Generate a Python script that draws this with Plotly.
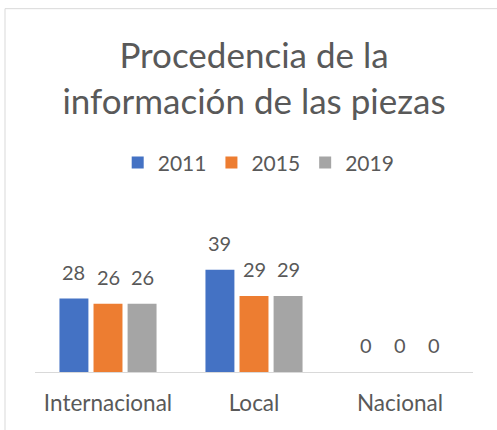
import plotly.graph_objects as go

categories = ["Internacional", "Local", "Nacional"]
years = ["2011", "2015", "2019"]
values_2011 = [28, 39, 0]
values_2015 = [26, 29, 0]
values_2019 = [26, 29, 0]
series = [values_2011, values_2015, values_2019]
colors = ["#4472C4", "#ED7D31", "#A5A5A5"]

FONT = "Lato"
TXT = "#595959"
BARGAP = 0.30
W, H = 497, 430
ML, MR, MT, MB = 35, 24, 200, 58.3

fig = go.Figure()
for name, vals, col in zip(years, series, colors):
    fig.add_trace(go.Bar(x=categories, y=vals, name=name, marker=dict(color=col, line=dict(width=0)),
                         cliponaxis=False))

# data labels above bars
n = len(series)
slot = (1 - BARGAP) / n
for j, vals in enumerate(series):
    for i, v in enumerate(vals):
        fig.add_annotation(x=i + (j - (n - 1) / 2) * slot, y=v, xref="x", yref="y",
                           text=str(v), showarrow=False, yanchor="middle", yshift=27,
                           font=dict(family=FONT, size=20, color=TXT))

# chart frame
pw = W - ML - MR
ph = H - MT - MB
fig.add_shape(type="rect", xref="paper", yref="paper",
              x0=(5 - ML) / pw, x1=(W + 5 - ML) / pw,
              y0=-(H + 5 - (H - MB)) / ph, y1=1 + (MT - 9) / ph,
              line=dict(color="#D9D9D9", width=1), fillcolor="rgba(0,0,0,0)", layer="below")

fig.update_layout(
    width=W, height=H,
    margin=dict(l=ML, r=MR, t=MT, b=MB, pad=0),
    paper_bgcolor="white", plot_bgcolor="white",
    barmode="group", bargap=BARGAP, bargroupgap=0.15,
    title=dict(text="Procedencia de la<br>información de las piezas", x=0.5, xref="paper",
               y=1 - 68 / H, yref="container", yanchor="top",
               font=dict(family=FONT, size=35, color=TXT)),
    legend=dict(orientation="h", x=(258.7 - ML) / pw, xanchor="center", y=1 + (MT - 163) / ph,
                yanchor="middle", font=dict(family=FONT, size=21, color=TXT), traceorder="normal"),
    xaxis=dict(showline=True, linecolor="#D9D9D9", linewidth=1, ticks="", showgrid=False,
               ticklabelstandoff=11,
               tickfont=dict(family=FONT, size=22.5, color=TXT)),
    yaxis=dict(visible=False, range=[0, ph / 2.62], showgrid=False, zeroline=False),
)

fig.write_html("out.html", config={"displayModeBar": False},
               post_script="document.body.style.margin='0px';")
